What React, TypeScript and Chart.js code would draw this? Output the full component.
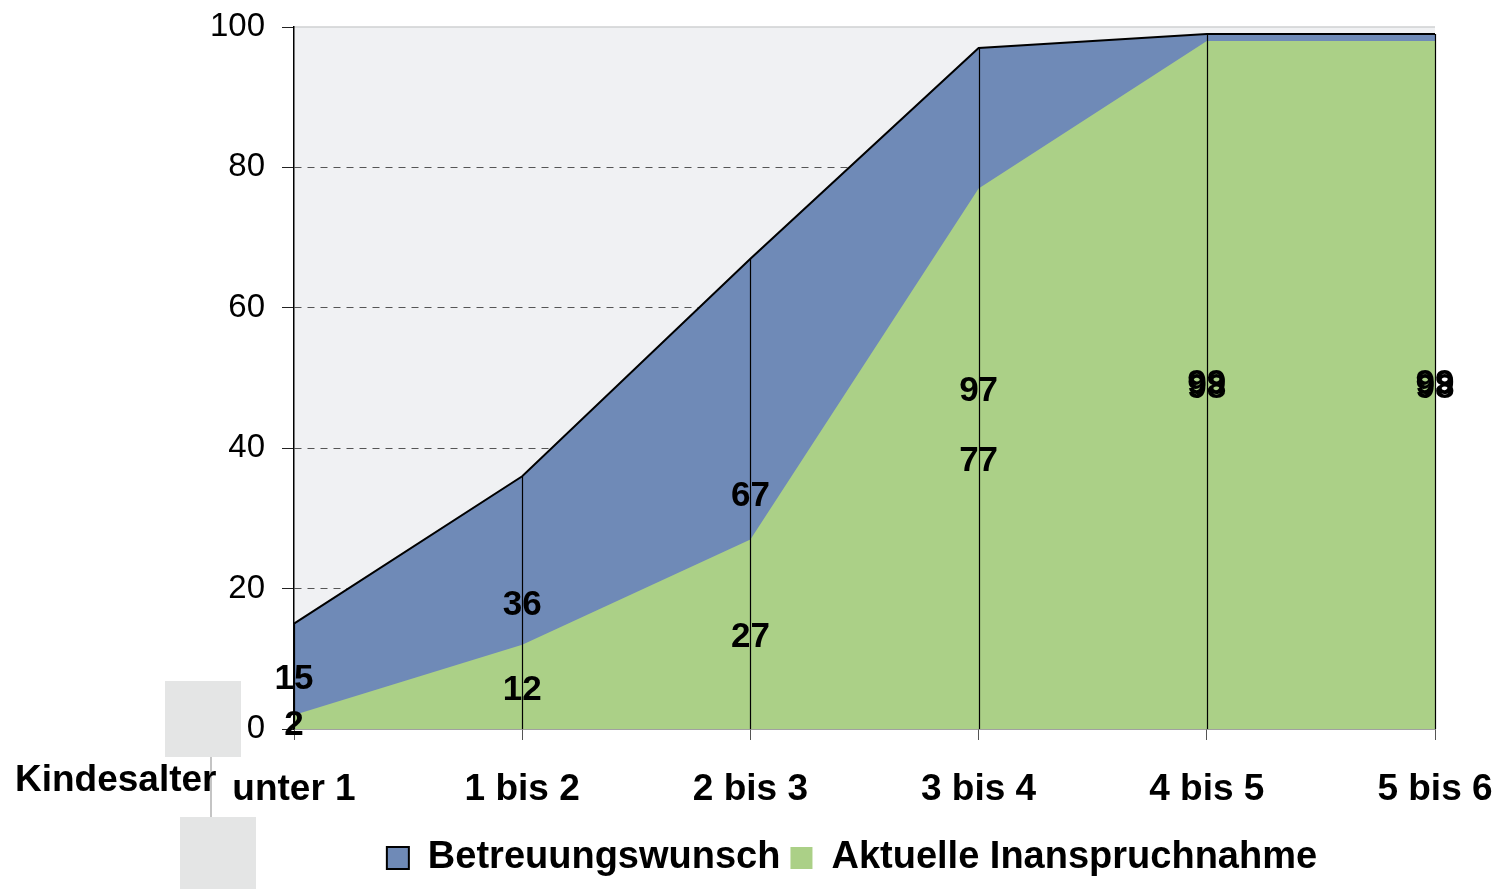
import React, { useEffect, useRef } from "react";
import { Chart, registerables } from "chart.js";

Chart.register(...registerables);

// ---- data ----
const categories = ["unter 1", "1 bis 2", "2 bis 3", "3 bis 4", "4 bis 5", "5 bis 6"];
const betreuungswunsch = [15, 36, 67, 97, 99, 99];
const aktuelleInanspruchnahme = [2, 12, 27, 77, 98, 98];
const yTickValues = [0, 20, 40, 60, 80, 100];
const seriesNames = ["Betreuungswunsch", "Aktuelle Inanspruchnahme"];
const axisTitle = "Kindesalter";

// ---- styles ----
const FONT = '"Liberation Sans", Arial, Helvetica, sans-serif';
const BLUE = "#6f8ab7";
const GREEN = "#abd087";
const PLOT_BG = "#f0f1f3";

export default function App() {
  const canvasRef = useRef<HTMLCanvasElement | null>(null);

  useEffect(() => {
    document.body.style.margin = "0";
    const canvas = canvasRef.current;
    if (!canvas) return;

    const backgroundPlugin = {
      id: "plotBackground",
      beforeDraw(chart: any) {
        const { ctx, chartArea } = chart;
        const { left, top, right, bottom } = chartArea;
        // shift legend block so it is centred like the original
        const lg = chart.legend;
        if (lg) {
          lg.left = left - 25;
          lg.width = lg.right - lg.left;
        }
        ctx.save();
        // decorative grey boxes at lower left
        ctx.fillStyle = "#e4e5e5";
        ctx.fillRect(left - 129, bottom - 48, 76, 76);
        ctx.fillRect(left - 114, bottom + 88, 76, 80);
        ctx.strokeStyle = "#c4c4c4";
        ctx.lineWidth = 2;
        ctx.beginPath();
        ctx.moveTo(left - 83, bottom + 28);
        ctx.lineTo(left - 83, bottom + 88);
        ctx.stroke();
        // plot background
        ctx.fillStyle = PLOT_BG;
        ctx.fillRect(left, top, right - left, bottom - top);
        ctx.strokeStyle = "#cfd0d2";
        ctx.lineWidth = 1.5;
        ctx.beginPath();
        ctx.moveTo(left, top);
        ctx.lineTo(right, top);
        ctx.stroke();
        ctx.restore();
      },
    };

    const overlayPlugin = {
      id: "overlay",
      afterDatasetsDraw(chart: any) {
        const { ctx } = chart;
        const xs = chart.scales.x;
        const ys = chart.scales.y;
        ctx.save();
        // drop lines
        ctx.strokeStyle = "#000";
        ctx.lineWidth = 1.2;
        categories.forEach((_, i) => {
          const x = Math.round(xs.getPixelForValue(i)) + 0.5;
          const topVal = Math.max(betreuungswunsch[i], aktuelleInanspruchnahme[i]);
          ctx.beginPath();
          ctx.moveTo(x, ys.getPixelForValue(topVal));
          ctx.lineTo(x, ys.getPixelForValue(0));
          ctx.stroke();
        });
        // data labels at half height
        ctx.fillStyle = "#000";
        ctx.font = `bold 35px ${FONT}`;
        ctx.textAlign = "center";
        ctx.textBaseline = "middle";
        [betreuungswunsch, aktuelleInanspruchnahme].forEach((series) => {
          series.forEach((v, i) => {
            ctx.fillText(String(v), xs.getPixelForValue(i), ys.getPixelForValue(v / 2) + 3);
          });
        });
        ctx.restore();
      },
      afterDraw(chart: any) {
        const { ctx, chartArea } = chart;
        ctx.save();
        ctx.fillStyle = "#000";
        ctx.font = `bold 37px ${FONT}`;
        ctx.textAlign = "left";
        ctx.textBaseline = "middle";
        ctx.fillText(axisTitle, 15, chartArea.bottom + 52);
        ctx.restore();
      },
    };

    const chart = new Chart(canvas, {
      type: "line",
      data: {
        labels: categories,
        datasets: [
          {
            label: seriesNames[1],
            data: aktuelleInanspruchnahme,
            backgroundColor: GREEN,
            borderColor: GREEN,
            borderWidth: 0,
            fill: "origin",
            pointRadius: 0,
            tension: 0,
          },
          {
            label: seriesNames[0],
            data: betreuungswunsch,
            backgroundColor: BLUE,
            borderColor: "#000",
            borderWidth: 2,
            fill: "origin",
            pointRadius: 0,
            tension: 0,
          },
        ],
      },
      options: {
        responsive: false,
        animation: false,
        devicePixelRatio: 1,
        layout: { padding: { top: 27, left: 207, right: 62, bottom: 2 } },
        plugins: {
          tooltip: { enabled: false },
          legend: {
            position: "bottom",
            labels: {
              font: { family: FONT, size: 38, weight: "bold" },
              color: "#000",
              boxWidth: 22,
              boxHeight: 22,
              padding: 10,
              sort: (a: any, b: any) => b.datasetIndex - a.datasetIndex,
            },
          },
        },
        scales: {
          x: {
            type: "category",
            offset: false,
            grid: {
              drawOnChartArea: false,
              drawTicks: true,
              tickLength: 11,
              tickColor: "#555",
              tickWidth: 1,
            },
            border: { color: "#444", width: 1.5 },
            ticks: {
              color: "#000",
              font: { family: FONT, size: 37, weight: "bold", lineHeight: 2.48 },
              padding: 4,
              maxRotation: 0,
              autoSkip: false,
            },
            afterFit: (s: any) => {
              s.height = 100;
            },
          },
          y: {
            min: 0,
            max: 100,
            afterBuildTicks: (s: any) => {
              s.ticks = yTickValues.map((v) => ({ value: v }));
            },
            ticks: {
              color: "#000",
              font: { family: FONT, size: 33, lineHeight: 0.6 },
              padding: 17,
            },
            grid: {
              color: (c: any) =>
                c.tick && (c.tick.value === 0 || c.tick.value === 100) ? "rgba(0,0,0,0)" : "#555",
              lineWidth: 1,
              tickColor: "#222",
              tickLength: 12,
              tickWidth: 1,
              tickBorderDash: [],
            },
            border: { color: "#000", width: 1.5, dash: [7, 6] },
            afterFit: (s: any) => {
              s.width = 87;
            },
          },
        },
      },
      plugins: [backgroundPlugin, overlayPlugin],
    } as any);

    return () => chart.destroy();
  }, []);

  return (
    <div style={{ width: 1497, height: 889 }}>
      <canvas ref={canvasRef} width={1497} height={889} style={{ display: "block" }} />
    </div>
  );
}
